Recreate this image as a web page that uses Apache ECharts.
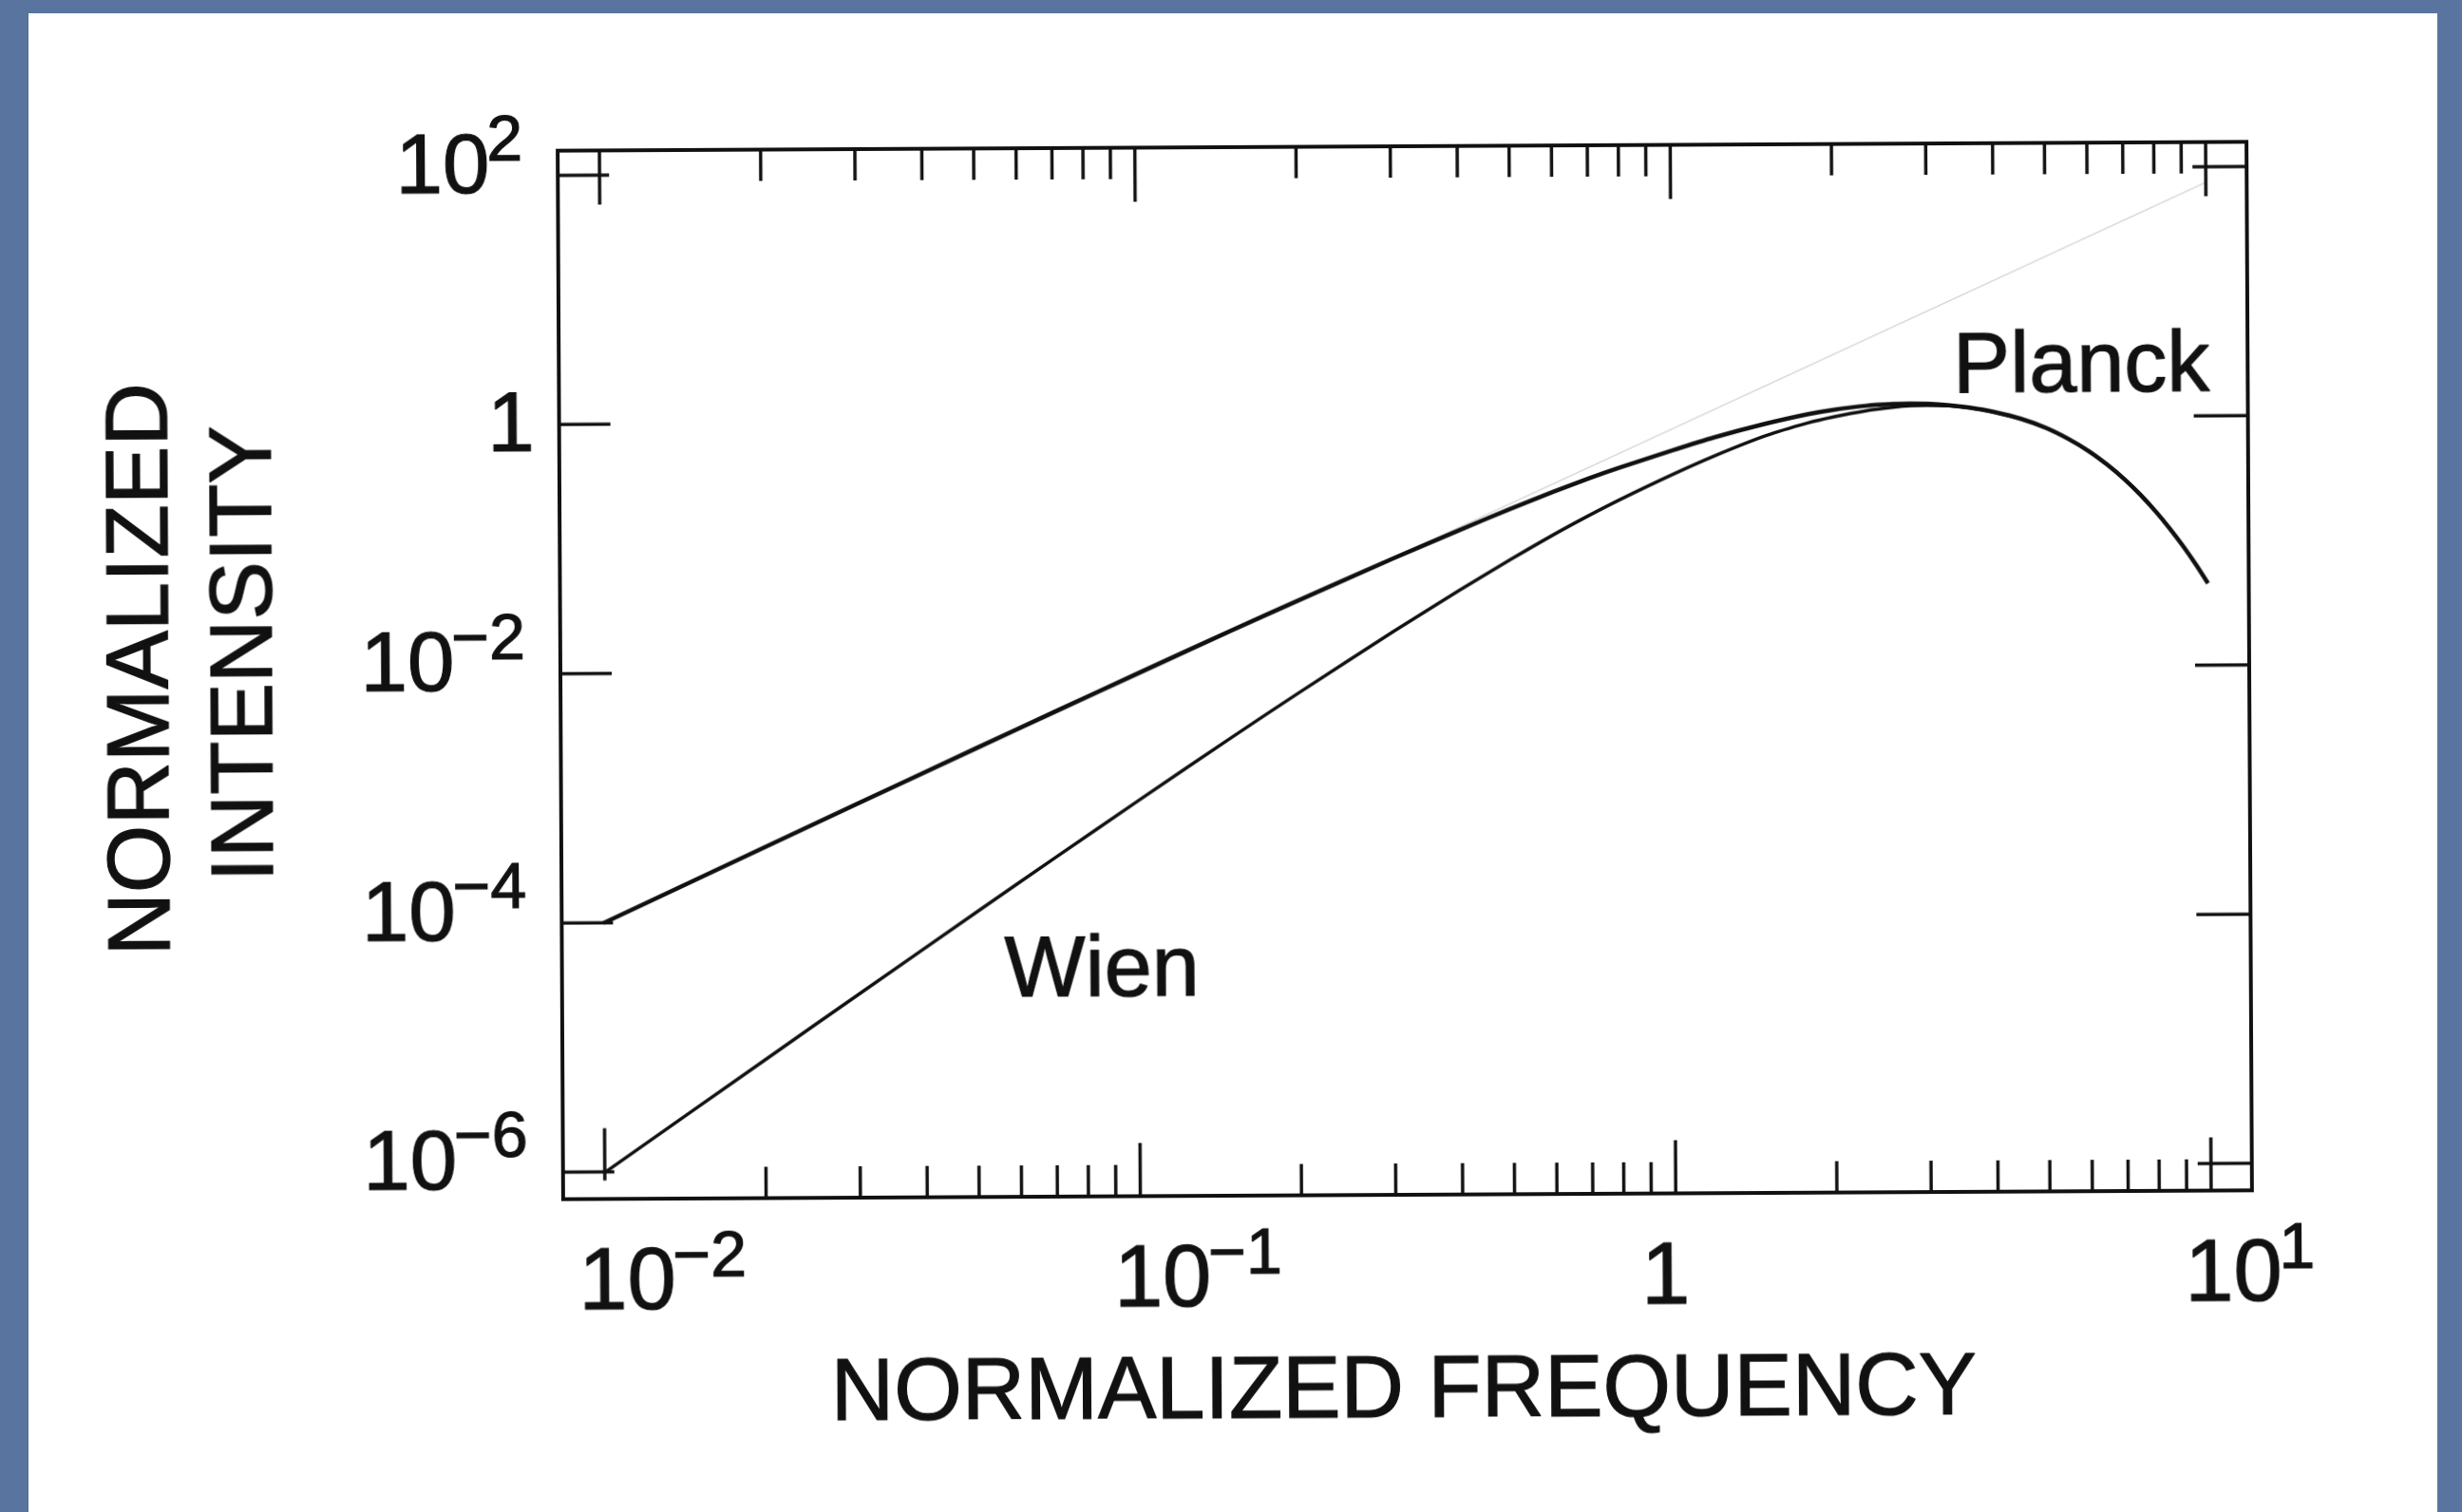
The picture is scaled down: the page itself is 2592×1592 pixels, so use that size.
<!DOCTYPE html>
<html>
<head>
<meta charset="utf-8">
<title>Planck and Wien spectra</title>
<script src="https://cdn.jsdelivr.net/npm/echarts@6/dist/echarts.min.js"></script>
<style>
  html, body { margin: 0; padding: 0; width: 2592px; height: 1592px; overflow: hidden; background: #58749f; }
  #panel { position: absolute; left: 30px; top: 14px; width: 2536px; height: 1578px; background: #ffffff; }
  #chart { position: absolute; left: 0; top: 0; width: 2592px; height: 1592px;
           transform: rotate(-0.3deg); transform-origin: 1478px 707px; }
</style>
</head>
<body>
<div id="panel"></div>
<div id="chart"></div>
<script>
// Normalized frequency samples and the spectral intensity of each law at them
const frequency = [0.01, 0.02, 0.03, 0.05, 0.07, 0.1, 0.15, 0.2, 0.3, 0.4, 0.5, 0.6, 0.7, 0.8,
                   1.0, 1.2, 1.5, 1.8, 2.0, 2.3, 2.6, 2.8, 3.0, 3.3, 3.6, 4.0, 4.5, 5.0, 5.5,
                   6.0, 6.5, 7.0, 7.5, 8.0, 8.5, 9.0, 9.5, 10];
const planck = [9.95e-5, 3.96e-4, 8.87e-4, 2.44e-3, 4.73e-3, 9.51e-3, 0.0209, 0.0361, 0.0772,
                0.130, 0.193, 0.262, 0.335, 0.408, 0.555, 0.705, 0.905, 1.075, 1.160, 1.245,
                1.285, 1.290, 1.285, 1.250, 1.195, 1.100, 0.965, 0.815, 0.665, 0.530, 0.411,
                0.313, 0.234, 0.172, 0.125, 0.0900, 0.0642, 0.0454];
const wien = [9.90e-7, 7.84e-6, 2.62e-5, 1.19e-4, 3.20e-4, 9.05e-4, 2.91e-3, 6.55e-3, 0.0200,
              0.0429, 0.0758, 0.1185, 0.169, 0.226, 0.355, 0.500, 0.725, 0.915, 1.015, 1.135,
              1.210, 1.240, 1.250, 1.235, 1.190, 1.095, 0.955, 0.810, 0.662, 0.528, 0.410,
              0.313, 0.233, 0.172, 0.125, 0.0900, 0.0642, 0.0454];
// Low-frequency asymptote, shown as a faint guide
const asymptoteFrequency = [0.01, 10];
const asymptote = [1.0e-4, 75];

// Axis ticks and their labels (base, superscript)
const xMajorTicks = [0.01, 0.1, 1, 10];
const xMinorTicks = [0.02, 0.03, 0.04, 0.05, 0.06, 0.07, 0.08, 0.09,
                     0.2, 0.3, 0.4, 0.5, 0.6, 0.7, 0.8, 0.9,
                     2, 3, 4, 5, 6, 7, 8, 9];
const yMajorTicks = [1e-6, 1e-4, 1e-2, 1, 100];
const xTickLabels = [['10', '\u22122'], ['10', '\u22121'], ['1', ''], ['10', '1']];
const yTickLabels = [['10', '\u22126'], ['10', '\u22124'], ['10', '\u22122'], ['1', ''], ['10', '2']];
const xAxisTitle = 'NORMALIZED FREQUENCY';
const yAxisTitle = ['NORMALIZED', 'INTENSITY'];
const curveNames = ['Planck', 'Wien'];

const FONT = '"Liberation Sans", Arial, Helvetica, sans-serif';
const INK = '#111111';

const measureCtx = document.createElement('canvas').getContext('2d');
function textWidth(s, size) {
  measureCtx.font = size + 'px ' + FONT;
  return measureCtx.measureText(s).width;
}

// Shared look of every piece of text: regular face with a hairline outline for weight
function textStyle(s, size, align) {
  return {
    text: s, fontSize: size, fontFamily: FONT, fill: INK,
    stroke: INK, lineWidth: 1.2,
    align: align, verticalAlign: 'middle'
  };
}

// Frame ticks and tick labels, placed through the cartesian coordinate system
function renderFrame(params, api) {
  const cs = params.coordSys;
  const L = cs.x, T = cs.y, R = cs.x + cs.width, B = cs.y + cs.height;
  const px = v => api.coord([v, 1])[0];
  const py = v => api.coord([1, v])[1];
  const children = [];
  const seg = (x1, y1, x2, y2) => children.push({
    type: 'line', shape: { x1, y1, x2, y2 },
    style: { stroke: INK, lineWidth: 3.5, lineCap: 'butt' }
  });
  const label = (s, x, y, size, align) => children.push({
    type: 'text', x, y, style: textStyle(s, size, align)
  });

  xMinorTicks.forEach(v => {
    const x = px(v);
    seg(x, T, x, T + 33);
    seg(x, B, x, B - 33);
  });
  xMajorTicks.forEach((v, i) => {
    const x = px(v);
    seg(x, T, x, T + 57);
    if (i === 0) {
      const yc = py(yMajorTicks[0]);
      seg(x, yc + 9, x, yc - 46);
    } else {
      seg(x, B, x, B - 56);
    }
    const base = xTickLabels[i][0], sup = xTickLabels[i][1];
    if (sup) {
      const left = x - 28;
      label(base, left, B + 91, 92, 'left');
      label(sup, left + textWidth(base, 92) - 3, B + 63, 68, 'left');
    } else {
      label(base, x - 11, B + 91, 92, 'center');
    }
  });
  yMajorTicks.forEach((v, i) => {
    const y = py(v);
    seg(L, y, L + 54, y);
    seg(R, y, R - 57, y);
    const base = yTickLabels[i][0], sup = yTickLabels[i][1];
    if (sup) {
      const right = L - 37;
      label(sup, right, y - 35, 68, 'right');
      label(base, right - textWidth(sup, 68) + 3, y - 7, 89, 'right');
    } else {
      label(base, L - 26, y + 3, 89, 'right');
    }
  });
  return { type: 'group', children };
}

const chart = echarts.init(document.getElementById('chart'), null, { renderer: 'canvas' });
chart.setOption({
  animation: false,
  backgroundColor: 'transparent',
  grid: {
    left: 590, top: 154, width: 1778, height: 1104,
    show: true, borderColor: INK, borderWidth: 4, backgroundColor: 'transparent'
  },
  xAxis: {
    type: 'log', logBase: 10,
    min: Math.pow(10, -2.078), max: Math.pow(10, 1.0763),
    axisLine: { show: false }, axisTick: { show: false },
    axisLabel: { show: false }, splitLine: { show: false }
  },
  yAxis: {
    type: 'log', logBase: 10,
    min: Math.pow(10, -6.217), max: Math.pow(10, 2.198),
    axisLine: { show: false }, axisTick: { show: false },
    axisLabel: { show: false }, splitLine: { show: false }
  },
  graphic: [
    { type: 'text', x: 1474, y: 1467, style: textStyle(xAxisTitle, 92, 'center') },
    { type: 'text', x: 152, y: 698, rotation: Math.PI / 2, style: textStyle(yAxisTitle[0], 92, 'center') },
    { type: 'text', x: 261, y: 682, rotation: Math.PI / 2, style: textStyle(yAxisTitle[1], 92, 'center') },
    { type: 'text', x: 2328, y: 391, style: textStyle(curveNames[0], 90, 'right') },
    { type: 'text', x: 1056, y: 1022, style: textStyle(curveNames[1], 90, 'left') }
  ],
  series: [
    {
      name: 'asymptote', type: 'line', z: 1,
      data: asymptoteFrequency.map((f, i) => [f, asymptote[i]]),
      showSymbol: false, silent: true,
      lineStyle: { color: '#d6d6d6', width: 1.5 }
    },
    {
      name: curveNames[1], type: 'line', z: 2,
      data: frequency.map((f, i) => [f, wien[i]]),
      showSymbol: false, smooth: 0.25, silent: true,
      lineStyle: { color: INK, width: 3.5 }
    },
    {
      name: curveNames[0], type: 'line', z: 3,
      data: frequency.map((f, i) => [f, planck[i]]),
      showSymbol: false, smooth: 0.25, silent: true,
      lineStyle: { color: INK, width: 4.5 }
    },
    {
      name: 'frame', type: 'custom', z: 4, clip: false, silent: true,
      data: [[1, 1]],
      renderItem: renderFrame
    }
  ]
});
</script>
</body>
</html>
